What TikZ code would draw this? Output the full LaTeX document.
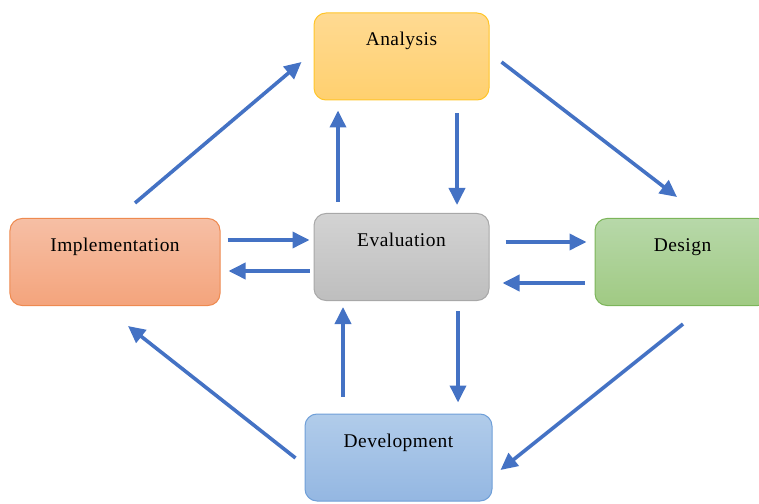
\documentclass[tikz,border=0pt]{standalone}
\usepackage{fontspec}
\setmainfont{Liberation Serif}
\usepackage{xcolor}
\definecolor{anatop}{HTML}{FFDA92}
\definecolor{anabot}{HTML}{FFD06F}
\definecolor{anaedge}{HTML}{FFC52A}
\definecolor{imptop}{HTML}{F6BFA5}
\definecolor{impbot}{HTML}{F4A47C}
\definecolor{impedge}{HTML}{EE8A50}
\definecolor{evatop}{HTML}{D3D3D3}
\definecolor{evabot}{HTML}{BEBEBE}
\definecolor{evaedge}{HTML}{A8A8A8}
\definecolor{destop}{HTML}{B7D8A9}
\definecolor{desbot}{HTML}{A0CA83}
\definecolor{desedge}{HTML}{7CB55A}
\definecolor{devtop}{HTML}{B1CCEA}
\definecolor{devbot}{HTML}{94B7E2}
\definecolor{devedge}{HTML}{6F9FD8}
\definecolor{flowblue}{HTML}{4472C4}
\usetikzlibrary{arrows.meta,calc}

\begin{document}
\begin{tikzpicture}[x=1bp, y=-1bp,
  stagebox/.style={rounded corners=12bp, line width=1bp, inner sep=0pt, minimum height=87bp,
    text height=33bp, text depth=54bp, font=\addfontfeatures{LetterSpace=2.5}\fontsize{19.5}{21}\selectfont},
  flow/.style={draw=flowblue, line width=3.6bp, -{Triangle[length=17bp,width=16bp]}}]
  \useasboundingbox (0,0) rectangle (759,504);
  \clip (0,0) rectangle (759,504);

  % the five stages
  \node[stagebox, draw=anaedge, top color=anatop, bottom color=anabot, minimum width=175bp] (ana) at (401.5,56.5) {Analysis};
  \node[stagebox, draw=impedge, top color=imptop, bottom color=impbot, minimum width=210bp] (imp) at (115,262) {Implementation};
  \node[stagebox, draw=evaedge, top color=evatop, bottom color=evabot, minimum width=175bp] (eva) at (401.5,257) {Evaluation};
  \node[stagebox, draw=desedge, top color=destop, bottom color=desbot, minimum width=175bp] (des) at (682.5,262) {Design};
  \node[stagebox, draw=devedge, top color=devtop, bottom color=devbot, minimum width=187bp] (dev) at (398.5,457.5) {Development};

  % outer cycle
  \draw[flow] ([shift={(20,-15)}]imp.north) -- ([shift={(-12,5.5)}]ana.west);
  \draw[flow] ([shift={(12,5.5)}]ana.east) -- ([shift={(-5.5,-21)}]des.north);
  \draw[flow] ([shift={(0.5,18)}]des.south) -- ([shift={(8,12.5)}]dev.east);
  \draw[flow] ([shift={(-9,0.5)}]dev.west) -- ([shift={(13,20)}]imp.south);

  % to and from evaluation
  \draw[flow] ([shift={(7,-22)}]imp.east) -- ([shift={(-4,-17)}]eva.west);
  \draw[flow] ([shift={(-4,14)}]eva.west) -- ([shift={(8,9)}]imp.east);
  \draw[flow] ([shift={(16,-15)}]eva.east) -- ([shift={(-8,-20)}]des.west);
  \draw[flow] ([shift={(-10,21)}]des.west) -- ([shift={(13,26)}]eva.east);
  \draw[flow] ([shift={(-63.5,-11)}]eva.north) -- ([shift={(-63.5,10)}]ana.south);
  \draw[flow] ([shift={(55.5,13)}]ana.south) -- ([shift={(55.5,-8)}]eva.north);
  \draw[flow] ([shift={(56.5,10)}]eva.south) -- ([shift={(59.5,-11)}]dev.north);
  \draw[flow] ([shift={(-55.5,-17)}]dev.north) -- ([shift={(-58.5,6)}]eva.south);
\end{tikzpicture}
\end{document}
